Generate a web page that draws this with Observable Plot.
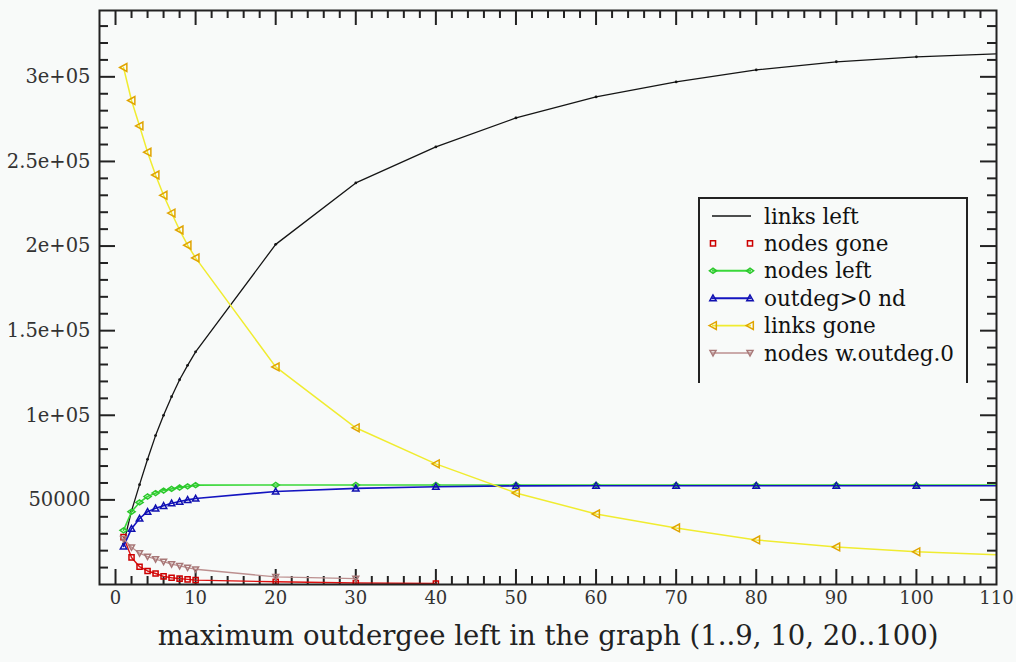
<!DOCTYPE html>
<html><head><meta charset="utf-8">
<script src="https://cdn.jsdelivr.net/npm/d3@7"></script>
<script src="https://cdn.jsdelivr.net/npm/@observablehq/plot@0.6"></script>
<style>
body{margin:0;background:#f8faf9;}
svg{display:block;}
</style>
</head><body><div id="chart"></div>
<script>
// ---- data ----
const xs = [1,2,3,4,5,6,7,8,9,10,20,30,40,50,60,70,80,90,100,110];
const linksLeft   = [24000,43500,59000,74000,88000,100000,111000,121000,129500,137500,201000,237300,258600,275700,288100,297000,304100,308900,311800,313600];
const nodesGone   = [28000,16000,10500,8000,6500,4800,4000,3500,3000,2600,1600,900,600,null,null,null,null,null,null,null];
const nodesLeft   = [32000,43000,48500,52000,54000,55500,56500,57300,58000,58700,58800,58800,58800,58800,58800,58700,58700,58700,58700,58700];
const outdegNd    = [22500,33000,39000,43000,45000,46500,48000,49000,50000,50800,55000,56800,57800,58300,58400,58400,58400,58400,58400,58400];
const linksGone   = [305500,286000,271000,255500,242000,230000,219500,209500,200500,193000,128600,92600,71300,54100,41700,33450,26350,22200,19300,17500];
const nodesOutdeg0= [27000,22000,18500,16500,15000,13500,12000,11000,10000,9000,4500,3500,null,null,null,null,null,null,null,null];

const seriesNames = ["links left","nodes gone","nodes left","outdeg>0 nd","links gone","nodes w.outdeg.0"];

const xMajor = [0,10,20,30,40,50,60,70,80,90,100,110];
const xMinor = d3.range(0,111,2).filter(v => v % 10 !== 0);
const yMajor = [50000,100000,150000,200000,250000,300000];
const yMajorLabels = ["50000","1e+05","1.5e+05","2e+05","2.5e+05","3e+05"];
const yMinor = d3.range(10000,339000,10000).filter(v => v % 50000 !== 0);
const xLabel = "maximum outdergee left in the graph (1..9, 10, 20..100)";

// ---- styles ----
const W = 1016, H = 662;
const mL = 99, mR = 20, mT = 10, mB = 78;
const plotW = W - mL - mR, plotH = H - mT - mB;
const serif = "DejaVu Serif, serif";

const triLeft = {draw(c, size){ const r = Math.sqrt(size/Math.PI)*1.15; c.moveTo(-r,0); c.lineTo(r*0.85,-r); c.lineTo(r*0.85,r); c.closePath(); }};
const triDown = {draw(c, size){ const r = Math.sqrt(size/Math.PI)*1.15; c.moveTo(0,r); c.lineTo(-r,-r*0.8); c.lineTo(r,-r*0.8); c.closePath(); }};
const triUp   = {draw(c, size){ const r = Math.sqrt(size/Math.PI)*1.15; c.moveTo(0,-r); c.lineTo(-r,r*0.8); c.lineTo(r,r*0.8); c.closePath(); }};
const diamond = {draw(c, size){ const r = Math.sqrt(size/Math.PI)*1.2; c.moveTo(-r,0); c.lineTo(0,-r*0.7); c.lineTo(r,0); c.lineTo(0,r*0.7); c.closePath(); }};
const square  = {draw(c, size){ const r = Math.sqrt(size/Math.PI)*0.85; c.rect(-r,-r,2*r,2*r); }};
const circle  = {draw(c, size){ const r = Math.sqrt(size/Math.PI); c.moveTo(r,0); c.arc(0,0,r,0,2*Math.PI); }};

const styles = [
  {vals: linksLeft,    line:"#151515", mk:"#151515", sym:circle,  r:1.4, fill:"#151515", lw:1.3},
  {vals: nodesGone,    line:"#dd1010", mk:"#cc0000", sym:square,  r:3,   fill:"none",    lw:1.4},
  {vals: nodesLeft,    line:"#3ad83a", mk:"#2cc82c", sym:diamond, r:3,   fill:"none",    lw:1.6},
  {vals: outdegNd,     line:"#1414c0", mk:"#1010b0", sym:triUp,   r:2.8, fill:"none",    lw:1.6},
  {vals: linksGone,    line:"#f0ec30", mk:"#e0a400", sym:triLeft, r:3.4, fill:"none",    lw:1.5},
  {vals: nodesOutdeg0, line:"#bc8f8f", mk:"#a87878", sym:triDown, r:2.6, fill:"none",    lw:1.3}
];
const rows = vals => xs.map((x,i) => ({x, y: vals[i]})).filter(d => d.y != null);

const marks = [];
// axis ticks (inward on all four sides)
const tickStroke = {stroke:"#222", strokeWidth:2};
marks.push(Plot.ruleX(xMajor.filter(v=>v<110), {x:d=>d, insetTop: plotH-15, ...tickStroke}));
marks.push(Plot.ruleX(xMinor, {x:d=>d, insetTop: plotH-8, ...tickStroke}));
marks.push(Plot.ruleX(xMajor.filter(v=>v<110), {x:d=>d, insetBottom: plotH-15, ...tickStroke}));
marks.push(Plot.ruleX(xMinor, {x:d=>d, insetBottom: plotH-8, ...tickStroke}));
marks.push(Plot.ruleY(yMajor, {y:d=>d, insetRight: plotW-16, ...tickStroke}));
marks.push(Plot.ruleY(yMinor, {y:d=>d, insetRight: plotW-9, ...tickStroke}));
marks.push(Plot.ruleY(yMajor, {y:d=>d, insetLeft: plotW-16, ...tickStroke}));
marks.push(Plot.ruleY(yMinor, {y:d=>d, insetLeft: plotW-9, ...tickStroke}));

// series
styles.forEach(s => {
  const data = rows(s.vals);
  marks.push(Plot.line(data, {x:"x", y:"y", stroke:s.line, strokeWidth:s.lw, clip:true}));
  marks.push(Plot.dot(data.filter(d => d.x <= 100), {x:"x", y:"y", r:s.r, symbol:s.sym, stroke: s.fill==="none" ? s.mk : null, fill: s.fill==="none" ? "none" : s.fill, strokeWidth:1.5, clip:true}));
});

marks.push(Plot.frame({stroke:"#222", strokeWidth:2}));

// tick labels
marks.push(Plot.text(xMajor, {x:d=>d, frameAnchor:"bottom", dy:19, text:d=>String(d), fontFamily:serif, fontSize:18, fill:"#333"}));
marks.push(Plot.text(yMajor, {y:d=>d, frameAnchor:"left", dx:-9, textAnchor:"end", text:(d,i)=>yMajorLabels[i], fontFamily:serif, fontSize:19.5, fill:"#333"}));
// x axis title
marks.push(Plot.text([xLabel], {frameAnchor:"bottom", dy:60, text:d=>d, fontFamily:serif, fontSize:27.5, fill:"#222"}));

const chart = Plot.plot({
  width: W, height: H,
  marginLeft: mL, marginRight: mR, marginTop: mT, marginBottom: mB,
  style: {background:"#f8faf9", overflow:"visible"},
  x: {domain:[-2,110], axis:null},
  y: {domain:[0,339200], axis:null},
  marks
});
document.getElementById("chart").appendChild(chart);

// legend box inside the plot area
const svg = d3.select(chart);
const lg = svg.append("g").attr("text-anchor","start");
const bx0 = 699, bx1 = 967, by0 = 198, by1 = 383;
lg.append("path").attr("d", `M${bx0},${by1}V${by0}H${bx1}V${by1}`).attr("fill","#f8faf9").attr("stroke","#222").attr("stroke-width",2);
seriesNames.forEach((name, i) => {
  const s = styles[i];
  const y = 216 + i*27.4;
  if (i !== 1) lg.append("line").attr("x1",712).attr("x2",751).attr("y1",y).attr("y2",y).attr("stroke",s.line).attr("stroke-width",s.lw+0.3);
  if (i !== 0) {
    [713, 750].forEach(px => {
      lg.append("path").attr("d", d3.symbol().type(s.sym).size(Math.PI*s.r*s.r)())
        .attr("transform",`translate(${px},${y})`)
        .attr("fill","none").attr("stroke",s.mk).attr("stroke-width",1.5);
    });
  }
  lg.append("text").attr("x",764).attr("y",y).attr("dy","0.35em").attr("text-anchor","start")
    .attr("font-family",serif).attr("font-size",21.5).attr("fill","#111").text(name);
});
</script>
</body></html>
